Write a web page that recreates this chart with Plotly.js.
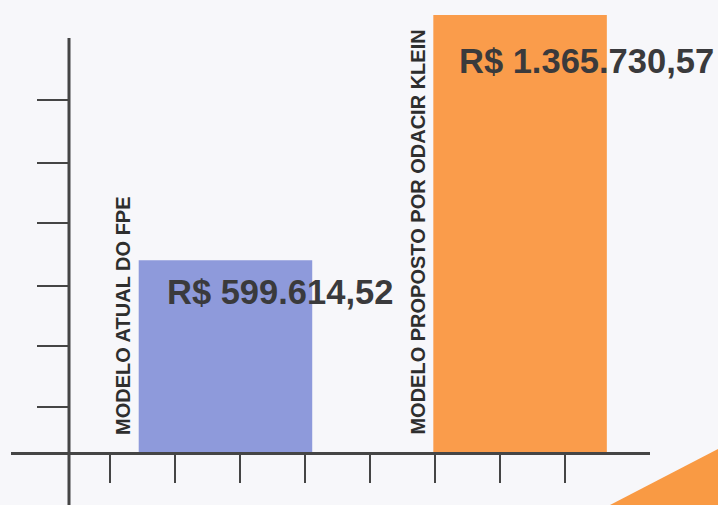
<!DOCTYPE html>
<html>
<head>
<meta charset="utf-8">
<script src="https://cdn.plot.ly/plotly-3.0.1.min.js"></script>
<style>html,body{margin:0;padding:0;background:#f7f7fa;}#chart{width:718px;height:505px;}</style>
</head>
<body>
<div id="chart"></div>
<script>
// Data
var categories = ["MODELO ATUAL DO FPE", "MODELO PROPOSTO POR ODACIR KLEIN"];
var positions = [0, 1];
var values = [599614.52, 1365730.57];
var valueLabels = ["R$ 599.614,52", "R$ 1.365.730,57"];
var barColors = ["#8e9adb", "#fa9c4b"];
var yTickVals = [140000, 330000, 520000, 715000, 905000, 1100000];
var xTickVals = [-0.392, -0.171, 0.049, 0.270, 0.491, 0.711, 0.932, 1.153];

var axisColor = "#454545";
var W = 718, H = 505;
var mL = 11, mR = 68, mT = 0, mB = 53;
var plotW = W - mL - mR, plotH = H - mT - mB;

var trace = {
  type: "bar",
  x: positions,
  y: values,
  width: 0.589,
  marker: {color: barColors, line: {width: 0}},
  hoverinfo: "skip"
};

var annotations = [];
// category labels, rotated
for (var i = 0; i < categories.length; i++) {
  annotations.push({
    x: positions[i], y: 0, xref: "x", yref: "y",
    text: "<b>" + categories[i] + "</b>",
    textangle: -90, showarrow: false,
    xanchor: "center", yanchor: "bottom",
    xshift: -103, yshift: 15,
    font: {family: "Liberation Sans, Arial, sans-serif", size: 20, color: "#2e2e2e"}
  });
}
// value labels
var valShiftX = [-60, -63];
var valShiftY = [-32, -46];
for (var j = 0; j < values.length; j++) {
  annotations.push({
    x: positions[j], y: values[j], xref: "x", yref: "y",
    text: "<b>" + valueLabels[j] + "</b>",
    showarrow: false, xanchor: "left", yanchor: "middle",
    xshift: valShiftX[j], yshift: valShiftY[j],
    font: {family: "Liberation Sans, Arial, sans-serif", size: 34.5, color: "#3a3a3c"}
  });
}

var yAxisX = (69 - mL) / plotW;

var layout = {
  width: W, height: H,
  margin: {l: mL, r: mR, t: mT, b: mB, pad: 0},
  paper_bgcolor: "#f7f7fa",
  plot_bgcolor: "rgba(0,0,0,0)",
  showlegend: false,
  xaxis: {
    range: [-0.728, 1.441],
    showgrid: false, zeroline: false,
    showline: true, linecolor: axisColor, linewidth: 3,
    tickmode: "array", tickvals: xTickVals, ticktext: xTickVals.map(function(){return "";}),
    ticks: "outside", ticklen: 28, tickwidth: 2, tickcolor: axisColor,
    fixedrange: true
  },
  yaxis: {
    range: [0, 1413000],
    showgrid: false, zeroline: false, showline: false,
    anchor: "free", position: yAxisX,
    tickmode: "array", tickvals: yTickVals, ticktext: yTickVals.map(function(){return "";}),
    ticks: "outside", ticklen: 32, tickwidth: 2, tickcolor: axisColor,
    fixedrange: true
  },
  annotations: annotations,
  shapes: [
    {type: "line", xref: "paper", yref: "paper",
     x0: yAxisX, x1: yAxisX, y0: (H - mB - 505) / plotH, y1: (H - mB - 38) / plotH,
     line: {color: axisColor, width: 3}},
    {type: "path", xref: "paper", yref: "paper",
     path: "M " + ((610 - mL) / plotW) + " " + ((H - mB - 505) / plotH) +
           " L " + ((718 - mL) / plotW) + " " + ((H - mB - 449) / plotH) +
           " L " + ((718 - mL) / plotW) + " " + ((H - mB - 505) / plotH) + " Z",
     fillcolor: "#f99a44", line: {width: 0}, layer: "below"}
  ]
};

Plotly.newPlot("chart", [trace], layout, {displayModeBar: false, staticPlot: true});
</script>
</body>
</html>
